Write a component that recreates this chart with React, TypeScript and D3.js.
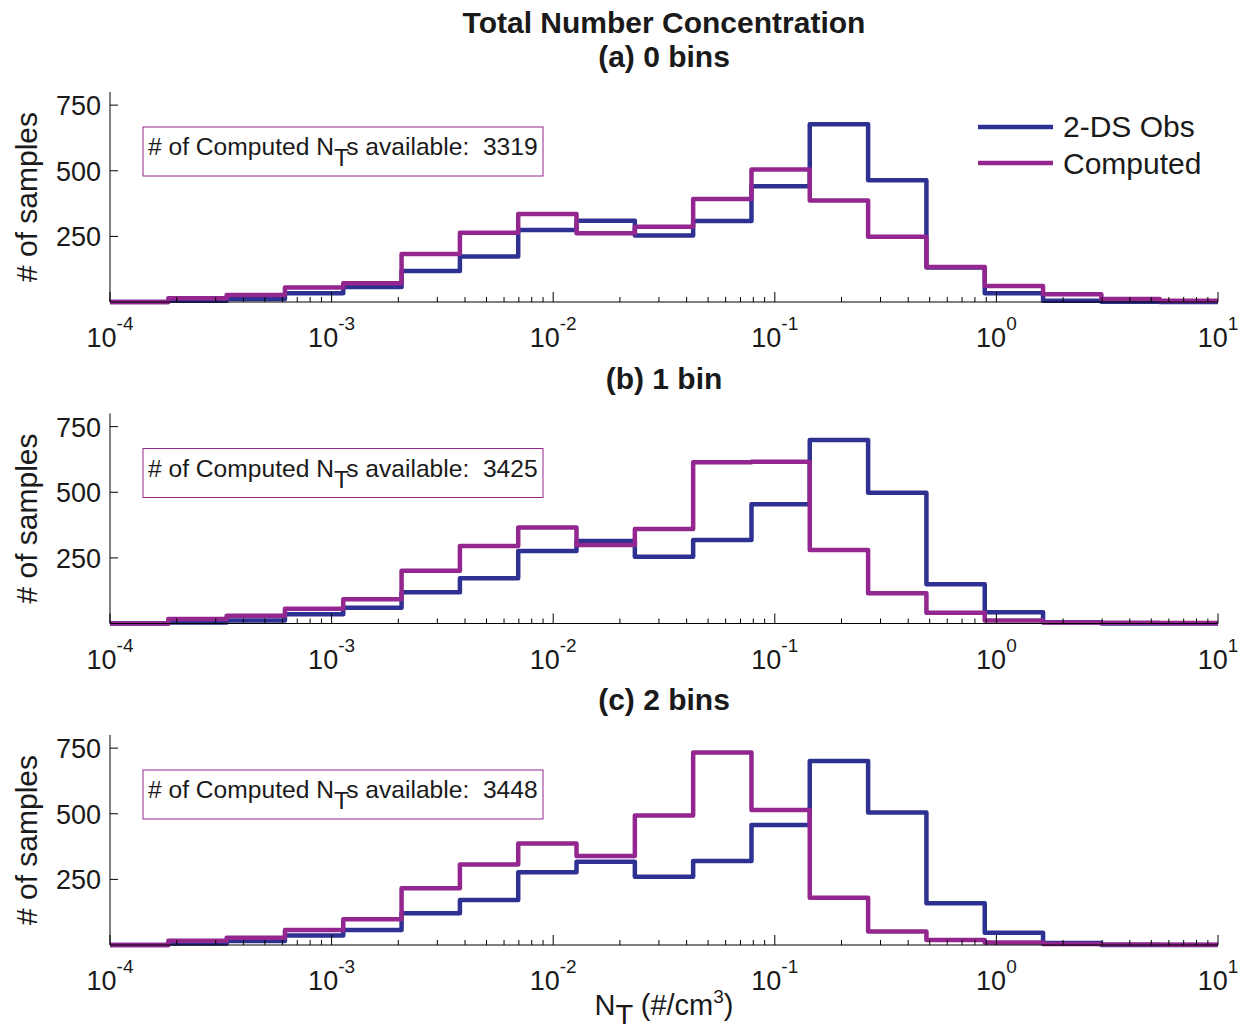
import React from 'react';
import * as d3 from 'd3';

// bin edges of N_T (#/cm^3), 19 log-spaced bins from 1e-4 to 1e1
const binEdges = [
  1e-4, 1.833e-4, 3.36e-4, 6.158e-4, 1.129e-3, 2.069e-3, 3.793e-3, 6.952e-3, 1.274e-2, 2.336e-2,
  4.281e-2, 7.848e-2, 0.1438, 0.2637, 0.4833, 0.8859, 1.624, 2.976, 5.456, 10,
];

const panelTitles = ['(a) 0 bins', '(b) 1 bin', '(c) 2 bins'];
const availableCounts = [3319, 3425, 3448];

// 2-DS observed counts per bin
const obsA = [0, 5, 11, 33, 57, 118, 173, 274, 310, 253, 309, 441, 677, 464, 131, 33, 5, 1, 0];
const obsB = [0, 4, 11, 35, 60, 119, 172, 276, 314, 254, 318, 454, 699, 498, 150, 43, 5, 0, 0];
const obsC = [0, 6, 15, 36, 57, 121, 171, 277, 317, 260, 320, 457, 701, 505, 159, 47, 8, 0, 0];

// computed counts per bin
const compA = [0, 14, 27, 55, 71, 183, 264, 335, 262, 287, 392, 505, 387, 249, 133, 61, 30, 11, 5];
const compB = [0, 17, 30, 56, 92, 201, 295, 366, 299, 360, 614, 616, 280, 115, 41, 11, 4, 3, 2];
const compC = [0, 16, 28, 57, 98, 216, 307, 387, 339, 493, 733, 514, 180, 51, 19, 10, 4, 2, 1];

const yTicks = [250, 500, 750];
const xDecades = [-4, -3, -2, -1, 0, 1];

const BLUE = '#2e3192';
const PURPLE = '#93278f';
const FONT = '"Liberation Sans", Arial, Helvetica, sans-serif';

const W = 1247;
const H = 1032;
const left = 110;
const right = 1218;
const panelTop = 92;
const panelH = 210;
const panelStep = 321.5;

const x = d3.scaleLog().domain([1e-4, 10]).range([left, right]);

type Pt = [number, number];

function stairs(vals: number[]): Pt[] {
  const pts: Pt[] = vals.map((v, i) => [binEdges[i], v]);
  pts.push([binEdges[binEdges.length - 1], vals[vals.length - 1]]);
  return pts;
}

const Panel = ({ idx, obs, comp }: { idx: number; obs: number[]; comp: number[] }) => {
  const top = panelTop + idx * panelStep;
  const bottom = top + panelH;
  const y = d3.scaleLinear().domain([0, 800]).range([bottom, top]);
  const line = d3
    .line<Pt>()
    .x((d) => x(d[0]))
    .y((d) => y(d[1]))
    .curve(d3.curveStepAfter);

  const minor: number[] = [];
  for (let e = -4; e < 1; e++) {
    for (let m = 2; m <= 9; m++) minor.push(m * Math.pow(10, e));
  }

  return (
    <g>
      <text x={(left + right) / 2} y={top - 25} textAnchor="middle" fontSize={30} fontWeight="bold">
        {panelTitles[idx]}
      </text>
      {/* stairs */}
      <path d={line(stairs(obs)) || ''} fill="none" stroke={BLUE} strokeWidth={4.5} strokeLinejoin="round" />
      <path d={line(stairs(comp)) || ''} fill="none" stroke={PURPLE} strokeWidth={4.5} strokeLinejoin="round" />

      {/* axes */}
      <line x1={left} x2={left} y1={top} y2={bottom} stroke="#000" strokeWidth={1} />
      <line x1={left} x2={right} y1={bottom} y2={bottom} stroke="#000" strokeWidth={1} />
      {yTicks.map((t) => (
        <g key={t}>
          <line x1={left} x2={left + 8} y1={y(t)} y2={y(t)} stroke="#000" />
          <text x={left - 9} y={y(t) + 10} textAnchor="end" fontSize={27}>
            {t}
          </text>
        </g>
      ))}
      {minor.map((t, i) => (
        <line key={i} x1={x(t)} x2={x(t)} y1={bottom} y2={bottom - 5} stroke="#000" />
      ))}
      {xDecades.map((e) => (
        <g key={e}>
          <line x1={x(Math.pow(10, e))} x2={x(Math.pow(10, e))} y1={bottom} y2={bottom - 10} stroke="#000" />
          <text x={x(Math.pow(10, e))} y={bottom + 45} textAnchor="middle" fontSize={27}>
            10
            <tspan dy={-17} fontSize={19}>
              {e}
            </tspan>
          </text>
        </g>
      ))}
      <text
        transform={`translate(37,${(top + bottom) / 2}) rotate(-90)`}
        textAnchor="middle"
        fontSize={30}
      >
        # of samples
      </text>

      {/* count box */}
      <rect x={143} y={top + 35} width={400} height={49} fill="#fff" stroke={PURPLE} strokeWidth={1} />
      <text x={148} y={top + 63} fontSize={24.6} style={{ whiteSpace: 'pre' }}>
        # of Computed N
        <tspan dy={11}>T</tspan>
        <tspan dy={-11}>{`s available:  ${availableCounts[idx]}`}</tspan>
      </text>
    </g>
  );
};

export default function App() {
  return (
    <svg width={W} height={H} style={{ display: 'block', margin: '-8px', background: '#fff' }} fontFamily={FONT} fill="#1a1a1a">
      <text x={(left + right) / 2} y={33} textAnchor="middle" fontSize={30} fontWeight="bold">
        Total Number Concentration
      </text>
      <Panel idx={0} obs={obsA} comp={compA} />
      <Panel idx={1} obs={obsB} comp={compB} />
      <Panel idx={2} obs={obsC} comp={compC} />

      {/* legend */}
      <line x1={978} x2={1053} y1={127} y2={127} stroke={BLUE} strokeWidth={4.5} />
      <text x={1063} y={137} fontSize={30}>
        2-DS Obs
      </text>
      <line x1={978} x2={1053} y1={163} y2={163} stroke={PURPLE} strokeWidth={4.5} />
      <text x={1063} y={174} fontSize={30}>
        Computed
      </text>

      {/* x label */}
      <text x={664} y={1015} textAnchor="middle" fontSize={29}>
        N
        <tspan dy={10}>T</tspan>
        <tspan dy={-10}> (#/cm</tspan>
        <tspan dy={-12} fontSize={19}>3</tspan>
        <tspan dy={12}>)</tspan>
      </text>
    </svg>
  );
}
